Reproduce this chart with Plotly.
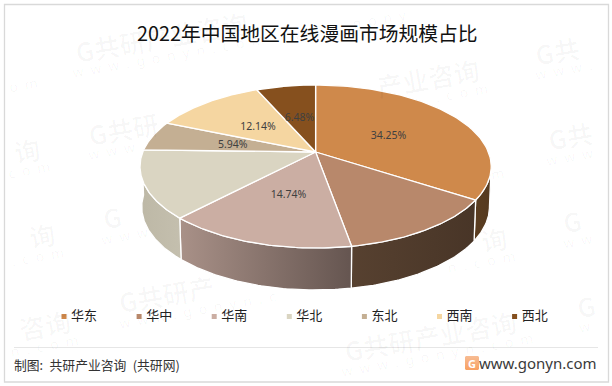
import numpy as np
import plotly.graph_objects as go

W, H = 612, 386
title = "2022年中国地区在线漫画市场规模占比"
categories = ["华东", "华中", "华南", "华北", "东北", "西南", "西北"]
values = [34.25, 13.0, 14.74, 13.45, 5.94, 12.14, 6.48]
labelled = [True, False, True, False, True, True, True]
top_colors = ["#CF894B", "#B8886B", "#CBAEA3", "#DAD5C2", "#C4AF93", "#F5D6A1", "#86501E"]
side_colors = {0: ("#5B3D20", "#553A20"), 1: ("#574130", "#483527"),
               2: ("#A99188", "#655550"), 3: ("#BDB8A6", "#C4BFAE")}
footer = "制图:\u2002共研产业咨询\u2002(共研网)"
site = "www.gonyn.com"
wm_main = "G共研产业咨询"
wm_sub = list("www.gonyn.com")
wm_starts = [(-152, 95), (-139, 179), (-124, 264), (-109, 352),
             (72, 52), (85, 135), (100, 219), (115, 303),
             (287, 15), (300, 100), (315, 185), (328, 268), (341, 351),
             (532, 55), (545, 140), (560, 223), (574, 308)]

# perspective projection of the pie disc
CX, CY, RX, RY, K = 315.6, 152, 172.8, 78.9, 0.178
DEPTH = 40

def proj(a, f=1.0):
    u, v = f * np.sin(a), f * np.cos(a)
    d = 1 + K * v
    return CX + RX * u / d, CY - RY * v / d

def on_pie(x, y):
    inside_top = ((x - CX) / 182) ** 2 + ((y - 167) / 90) ** 2 < 1
    inside_side = ((x - CX) / 182) ** 2 + ((y - 167 - DEPTH) / 90) ** 2 < 1 and y > 167
    return inside_top or inside_side

cum = np.concatenate([[0], np.cumsum(values)]) / sum(values) * 2 * np.pi
fig = go.Figure()

# side walls
vis_lo, vis_hi = np.radians(100), np.radians(268)
for i, (c1, c2) in side_colors.items():
    a0, a1 = max(cum[i], vis_lo), min(cum[i + 1], vis_hi)
    t = np.linspace(a0, a1, 60)
    x, y = proj(t)
    d = DEPTH - 2.0 * np.cos(t)
    xb = CX + (x - CX) * 0.99
    yb = y + d
    fig.add_trace(go.Scatter(
        x=np.concatenate([x, xb[::-1], x[:1]]), y=np.concatenate([y, yb[::-1], y[:1]]),
        mode="lines", line=dict(color="white", width=1.3), fill="toself",
        fillgradient=dict(type="horizontal", colorscale=[[0, c1], [1, c2]]),
        hoverinfo="skip", showlegend=False))

# top faces
for i, col in enumerate(top_colors):
    t = np.linspace(cum[i], cum[i + 1], 80)
    x, y = proj(t)
    fig.add_trace(go.Scatter(
        x=np.concatenate([[CX], x, [CX]]), y=np.concatenate([[CY], y, [CY]]),
        mode="lines", line=dict(color="white", width=1.3), fill="toself", fillcolor=col,
        name=categories[i], hoverinfo="name", showlegend=False))

# data labels
for i, v in enumerate(values):
    if labelled[i]:
        mid = (cum[i] + cum[i + 1]) / 2
        lx, ly = proj(mid, 0.5)
        fig.add_trace(go.Scatter(
            x=[lx], y=[ly + 2], mode="text", text=[f"{v:.2f}%"], textposition="middle center",
            textfont=dict(family="Noto Sans", size=10.5, color="#404040"),
            hoverinfo="skip", showlegend=False))

# legend
for i, name in enumerate(categories):
    lx = 64 + i * 75.1
    fig.add_trace(go.Scatter(
        x=[lx], y=[316.5], mode="markers+text", text=[" " + name], textposition="middle right",
        marker=dict(symbol="square", size=5, color=top_colors[i]),
        textfont=dict(family="Noto Sans CJK SC", size=13, color="#222222"),
        hoverinfo="skip", showlegend=False))

# logo tile
fig.add_trace(go.Scatter(
    x=[466, 478, 479, 479, 478, 466, 465, 465, 466], y=[356, 356, 357, 369, 370, 370, 369, 357, 356],
    mode="lines", line=dict(width=0), fill="toself",
    fillgradient=dict(type="vertical", colorscale=[[0, "#F8A060"], [1, "#F7BC94"]]),
    hoverinfo="skip", showlegend=False))

# watermark: only the runs of glyphs that are visible in the frame and off the pie
ANG = np.radians(10)
ux, uy = np.cos(ANG), -np.sin(ANG)

def runs(glyphs, sx, sy, pitch, halfh, joiner, font):
    out, cur = [], []
    for k, g in enumerate(glyphs + [None]):
        ok = False
        if g is not None:
            x0, y0 = sx + k * pitch * ux, sy + k * pitch * uy
            x1, y1 = sx + (k + 1) * pitch * ux, sy + (k + 1) * pitch * uy
            ok = (x0 > 7 and x1 < 605 and min(y0, y1) - halfh > 6 and max(y0, y1) + halfh < 380
                  and not on_pie((x0 + x1) / 2, (y0 + y1) / 2))
        if ok:
            cur.append(k)
        elif cur:
            mid = (cur[0] + cur[-1] + 1) / 2
            out.append(dict(x=sx + mid * pitch * ux, y=sy + mid * pitch * uy, xref="x", yref="y",
                            text=joiner.join(glyphs[j] for j in cur), showarrow=False,
                            textangle=-10, font=font))
            cur = []
    return out

ann = []
main_font = dict(family="Noto Sans CJK SC", size=26, weight="bold", color="rgba(0,0,0,0.028)")
sub_font = dict(family="Noto Sans", size=14, color="rgba(0,0,0,0.035)")
for sx, sy in wm_starts:
    ann += runs(list(wm_main), sx, sy, 26, 13, "", main_font)
    ann += runs(wm_sub, sx + 3, sy + 20, 14.6, 7, "\u2002", sub_font)

ann += [
    dict(x=307.5, y=32, xref="x", yref="y", text=title, showarrow=False,
         font=dict(family="Noto Sans CJK SC", size=19.8, color="#111111")),
    dict(x=12, y=364, xref="x", yref="y", xanchor="left", text=footer, showarrow=False,
         font=dict(family="Noto Sans CJK SC", size=12.8, color="#333333")),
    dict(x=599, y=363, xref="x", yref="y", xanchor="right", text=site, showarrow=False,
         font=dict(family="Noto Sans", size=15, color="#3A3A3A")),
    dict(x=472, y=363, xref="x", yref="y", text="<b>G</b>", showarrow=False,
         font=dict(family="Noto Sans", size=11, color="white")),
]

shapes = [
    dict(type="rect", xref="x", yref="y", x0=4.5, y0=4.5, x1=608.5, y1=382,
         line=dict(color="#D9D9D9", width=1.3), fillcolor="rgba(0,0,0,0)"),
    dict(type="line", xref="x", yref="y", x0=14, y0=347.5, x1=598, y1=347.5, line=dict(color="#E6E6E6", width=1)),
]

fig.update_layout(
    width=W, height=H, margin=dict(l=0, r=0, t=0, b=0), autosize=False,
    paper_bgcolor="white", plot_bgcolor="white", showlegend=False,
    xaxis=dict(range=[0, W], visible=False, fixedrange=True),
    yaxis=dict(range=[H, 0], visible=False, fixedrange=True),
    annotations=ann, shapes=shapes,
)
fig.write_html("out.html", config={"displayModeBar": False},
               post_script="document.body.style.margin='0';document.body.style.overflow='hidden';")
